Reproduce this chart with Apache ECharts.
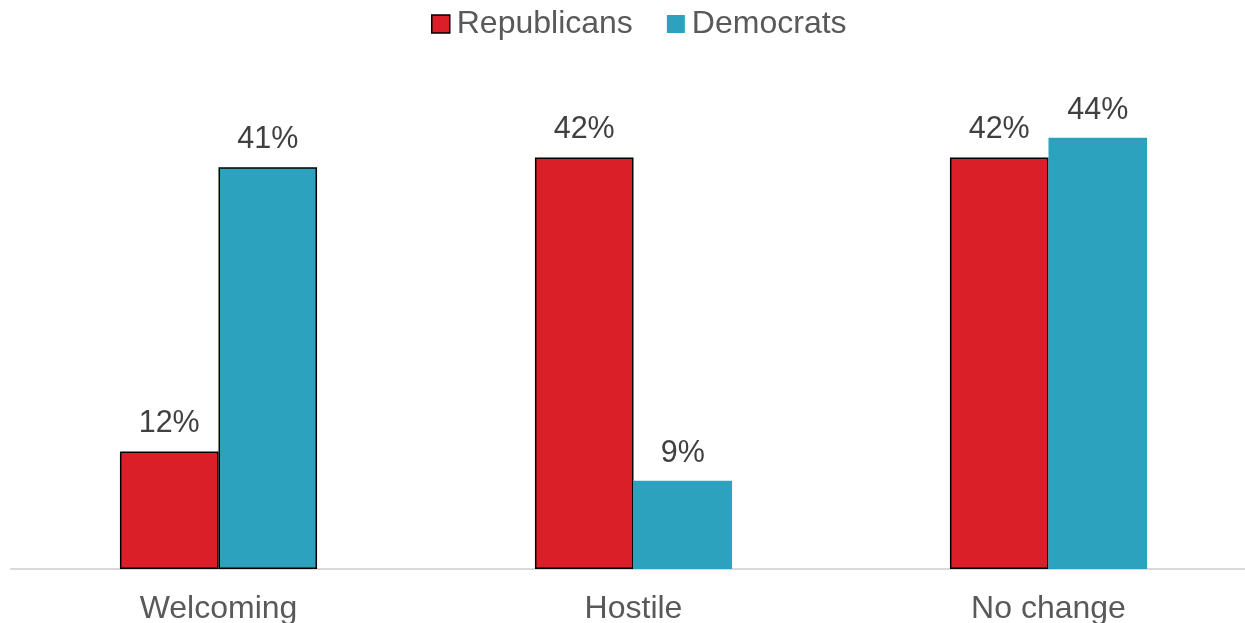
<!DOCTYPE html>
<html>
<head>
<meta charset="utf-8">
<script src="https://cdn.jsdelivr.net/npm/echarts@6/dist/echarts.min.js"></script>
<style>
html,body{margin:0;padding:0;background:#fff;}
#chart{width:1245px;height:623px;}
</style>
</head>
<body>
<div id="chart"></div>
<script>
const categories = ['Welcoming', 'Hostile', 'No change'];
const republicans = [12, 42, 42];
const democrats = [41, 9, 44];
const democratsBordered = [true, false, false];

const RED = '#DA1F28';
const BLUE = '#2CA2BF';
const FONT = 'Liberation Sans, Arial, sans-serif';

const chart = echarts.init(document.getElementById('chart'));
const labelCfg = {
  show: true,
  position: 'top',
  distance: 12,
  formatter: p => p.value + '%',
  color: '#404040',
  fontSize: 30.5,
  fontFamily: FONT
};
chart.setOption({
  animation: false,
  legend: {
    top: 3,
    left: 426,
    icon: 'rect',
    itemWidth: 18,
    itemHeight: 18,
    itemGap: 34,
    textStyle: { fontSize: 32, color: '#595959', fontFamily: FONT, padding: [0, 0, 0, 2] },
    data: [
      { name: 'Republicans', itemStyle: { borderColor: '#000', borderWidth: 1.5 } },
      { name: 'Democrats', itemStyle: { borderWidth: 0 } }
    ]
  },
  grid: { left: 11, right: -11, top: 79, bottom: 54, containLabel: false, outerBoundsMode: 'none' },
  xAxis: {
    type: 'category',
    data: categories,
    axisLine: { lineStyle: { color: '#D9D9D9', width: 2 } },
    axisTick: { show: false },
    axisLabel: { fontSize: 32, color: '#595959', fontFamily: FONT, margin: 24 }
  },
  yAxis: {
    type: 'value',
    min: 0,
    max: 50,
    show: false,
    splitLine: { show: false }
  },
  series: [
    {
      name: 'Republicans',
      type: 'bar',
      barGap: '0%',
      barCategoryGap: '52.5%',
      itemStyle: { color: RED, borderColor: '#000', borderWidth: 1.5 },
      label: labelCfg,
      data: republicans
    },
    {
      name: 'Democrats',
      type: 'bar',
      itemStyle: { color: BLUE },
      label: labelCfg,
      data: democrats.map((v, i) => ({
        value: v,
        itemStyle: democratsBordered[i] ? { borderColor: '#000', borderWidth: 1.5 } : { borderWidth: 0 }
      }))
    }
  ]
});
</script>
</body>
</html>
